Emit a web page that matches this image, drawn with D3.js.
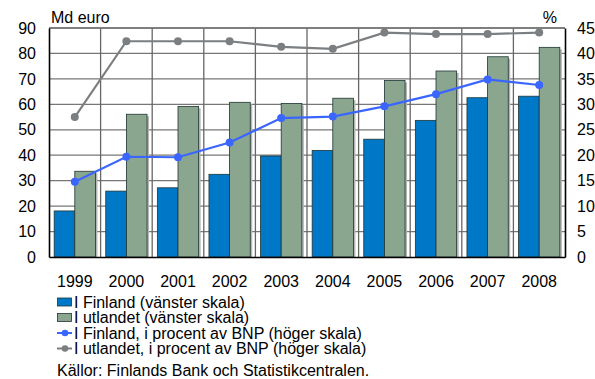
<!DOCTYPE html>
<html lang="sv">
<head>
<meta charset="UTF-8">
<title>D3</title>
<script src="https://d3js.org/d3.v7.min.js"></script>
<style>
  body { margin: 0; background: #fff; }
  text { font-family: "Liberation Sans", Arial, sans-serif; fill: #000; }
</style>
</head>
<body>
<script>
const years = ['1999','2000','2001','2002','2003','2004','2005','2006','2007','2008'];
const finland = [18.1, 25.9, 27.2, 32.5, 39.7, 41.9, 46.3, 53.7, 62.6, 63.2];
const utland = [33.7, 56.1, 59.2, 60.8, 60.3, 62.4, 69.4, 73.1, 78.7, 82.4];
const finlandPct = [14.8, 19.7, 19.6, 22.5, 27.3, 27.6, 29.6, 32.0, 34.9, 33.8];
const utlandPct = [27.5, 42.4, 42.4, 42.4, 41.3, 40.9, 44.1, 43.8, 43.8, 44.1];
const leftTicks = [0, 10, 20, 30, 40, 50, 60, 70, 80, 90];
const rightTicks = [0, 5, 10, 15, 20, 25, 30, 35, 40, 45];
const legendLabels = [
  'I Finland (vänster skala)',
  'I utlandet (vänster skala)',
  'I Finland, i procent av BNP (höger skala)',
  'I utlandet, i procent av BNP (höger skala)'
];

const width = 595, height = 379;
const m = { left: 49, right: 30, top: 28, bottom: 122 };
const innerW = width - m.left - m.right;
const innerH = height - m.top - m.bottom;
const fs = '16px';

const blue = '#0078c8', green = '#8aa68e', lineBlue = '#3a66ff', lineGrey = '#7b7f82';

const svg = d3.select('body').append('svg').attr('width', width).attr('height', height);
const g = svg.append('g').attr('transform', `translate(${m.left},${m.top})`);

const x = d3.scaleBand().domain(years).range([0, innerW]);
const xs = d3.scaleBand().domain(['fi', 'ut']).range([0, x.bandwidth()]).paddingOuter(0.25).paddingInner(0);
const yL = d3.scaleLinear().domain([0, 90]).range([innerH, 0]);
const yR = d3.scaleLinear().domain([0, 45]).range([innerH, 0]);

// grid
g.append('g').selectAll('line').data(leftTicks.slice(1))
  .join('line')
  .attr('x1', 0).attr('x2', innerW)
  .attr('y1', d => yL(d)).attr('y2', d => yL(d))
  .attr('stroke', '#777').attr('stroke-width', 1.3);
g.append('g').selectAll('line').data(years.slice(1))
  .join('line')
  .attr('x1', d => x(d)).attr('x2', d => x(d))
  .attr('y1', 0).attr('y2', innerH)
  .attr('stroke', '#666').attr('stroke-width', 1.3);

// bars with shadow
const rows = years.map((yr, i) => ({ yr, fi: finland[i], ut: utland[i] }));
const grp = g.append('g').selectAll('g').data(rows).join('g')
  .attr('transform', d => `translate(${x(d.yr)},0)`);
const bars = grp.selectAll('g').data(d => [{ k: 'fi', v: d.fi }, { k: 'ut', v: d.ut }]).join('g');
bars.append('rect')
  .attr('x', d => xs(d.k) + 2).attr('y', d => yL(d.v) + 2)
  .attr('width', xs.bandwidth()).attr('height', d => innerH - yL(d.v) - 2)
  .attr('fill', '#b5b5b5');
bars.append('rect')
  .attr('x', d => xs(d.k)).attr('y', d => yL(d.v))
  .attr('width', xs.bandwidth()).attr('height', d => innerH - yL(d.v))
  .attr('fill', d => d.k === 'fi' ? blue : green)
  .attr('stroke', '#1f3535').attr('stroke-width', 0.8);

// frame
g.append('line').attr('x1', 0).attr('x2', innerW).attr('y1', 0).attr('y2', 0).attr('stroke', '#777').attr('stroke-width', 1.3);

// axes
const axL = g.append('g').call(d3.axisLeft(yL).tickValues(leftTicks).tickSize(0).tickPadding(13));
const axR = g.append('g').attr('transform', `translate(${innerW},0)`)
  .call(d3.axisRight(yR).tickValues(rightTicks).tickSize(0).tickPadding(12));
const axB = g.append('g').attr('transform', `translate(0,${innerH})`)
  .call(d3.axisBottom(x).tickSize(0).tickPadding(19));
[axL, axR, axB].forEach(a => {
  a.select('.domain').attr('stroke', '#000').attr('stroke-width', 1.6);
  a.selectAll('text').style('font-size', fs).style('font-family', '"Liberation Sans", Arial, sans-serif');
});

// lines
const lineL = d3.line().x((d, i) => x(years[i]) + x.bandwidth() / 2).y(d => yR(d));
[[utlandPct, lineGrey], [finlandPct, lineBlue]].forEach(([data, col]) => {
  g.append('path').datum(data).attr('d', lineL)
    .attr('fill', 'none').attr('stroke', col).attr('stroke-width', 2.2);
  g.append('g').selectAll('circle').data(data).join('circle')
    .attr('cx', (d, i) => x(years[i]) + x.bandwidth() / 2).attr('cy', d => yR(d))
    .attr('r', 4).attr('fill', col);
});

// axis titles
svg.append('text').attr('x', 51).attr('y', 23).style('font-size', fs).text('Md euro');
svg.append('text').attr('x', 557).attr('y', 23).attr('text-anchor', 'end').style('font-size', fs).text('%');

// legend
const leg = svg.append('g').attr('transform', 'translate(57,302)');
const items = leg.selectAll('g').data(legendLabels).join('g')
  .attr('transform', (d, i) => `translate(0,${i * 15.5})`);
items.each(function (d, i) {
  const it = d3.select(this);
  if (i < 2) {
    it.append('rect').attr('x', 0.5).attr('y', -4).attr('width', 14).attr('height', 8)
      .attr('fill', i === 0 ? blue : green).attr('stroke', '#1f3535').attr('stroke-width', 0.8);
  } else {
    const col = i === 2 ? lineBlue : lineGrey;
    it.append('line').attr('x1', 0).attr('x2', 15).attr('y1', 0).attr('y2', 0).attr('stroke', col).attr('stroke-width', 2);
    it.append('circle').attr('cx', 8).attr('cy', 0).attr('r', 3.3).attr('fill', col);
  }
  it.append('text').attr('x', 17).attr('y', 5.7).style('font-size', fs).text(d);
});
svg.append('text').attr('x', 57).attr('y', 376).style('font-size', fs)
  .text('Källor: Finlands Bank och Statistikcentralen.');
</script>
</body>
</html>
